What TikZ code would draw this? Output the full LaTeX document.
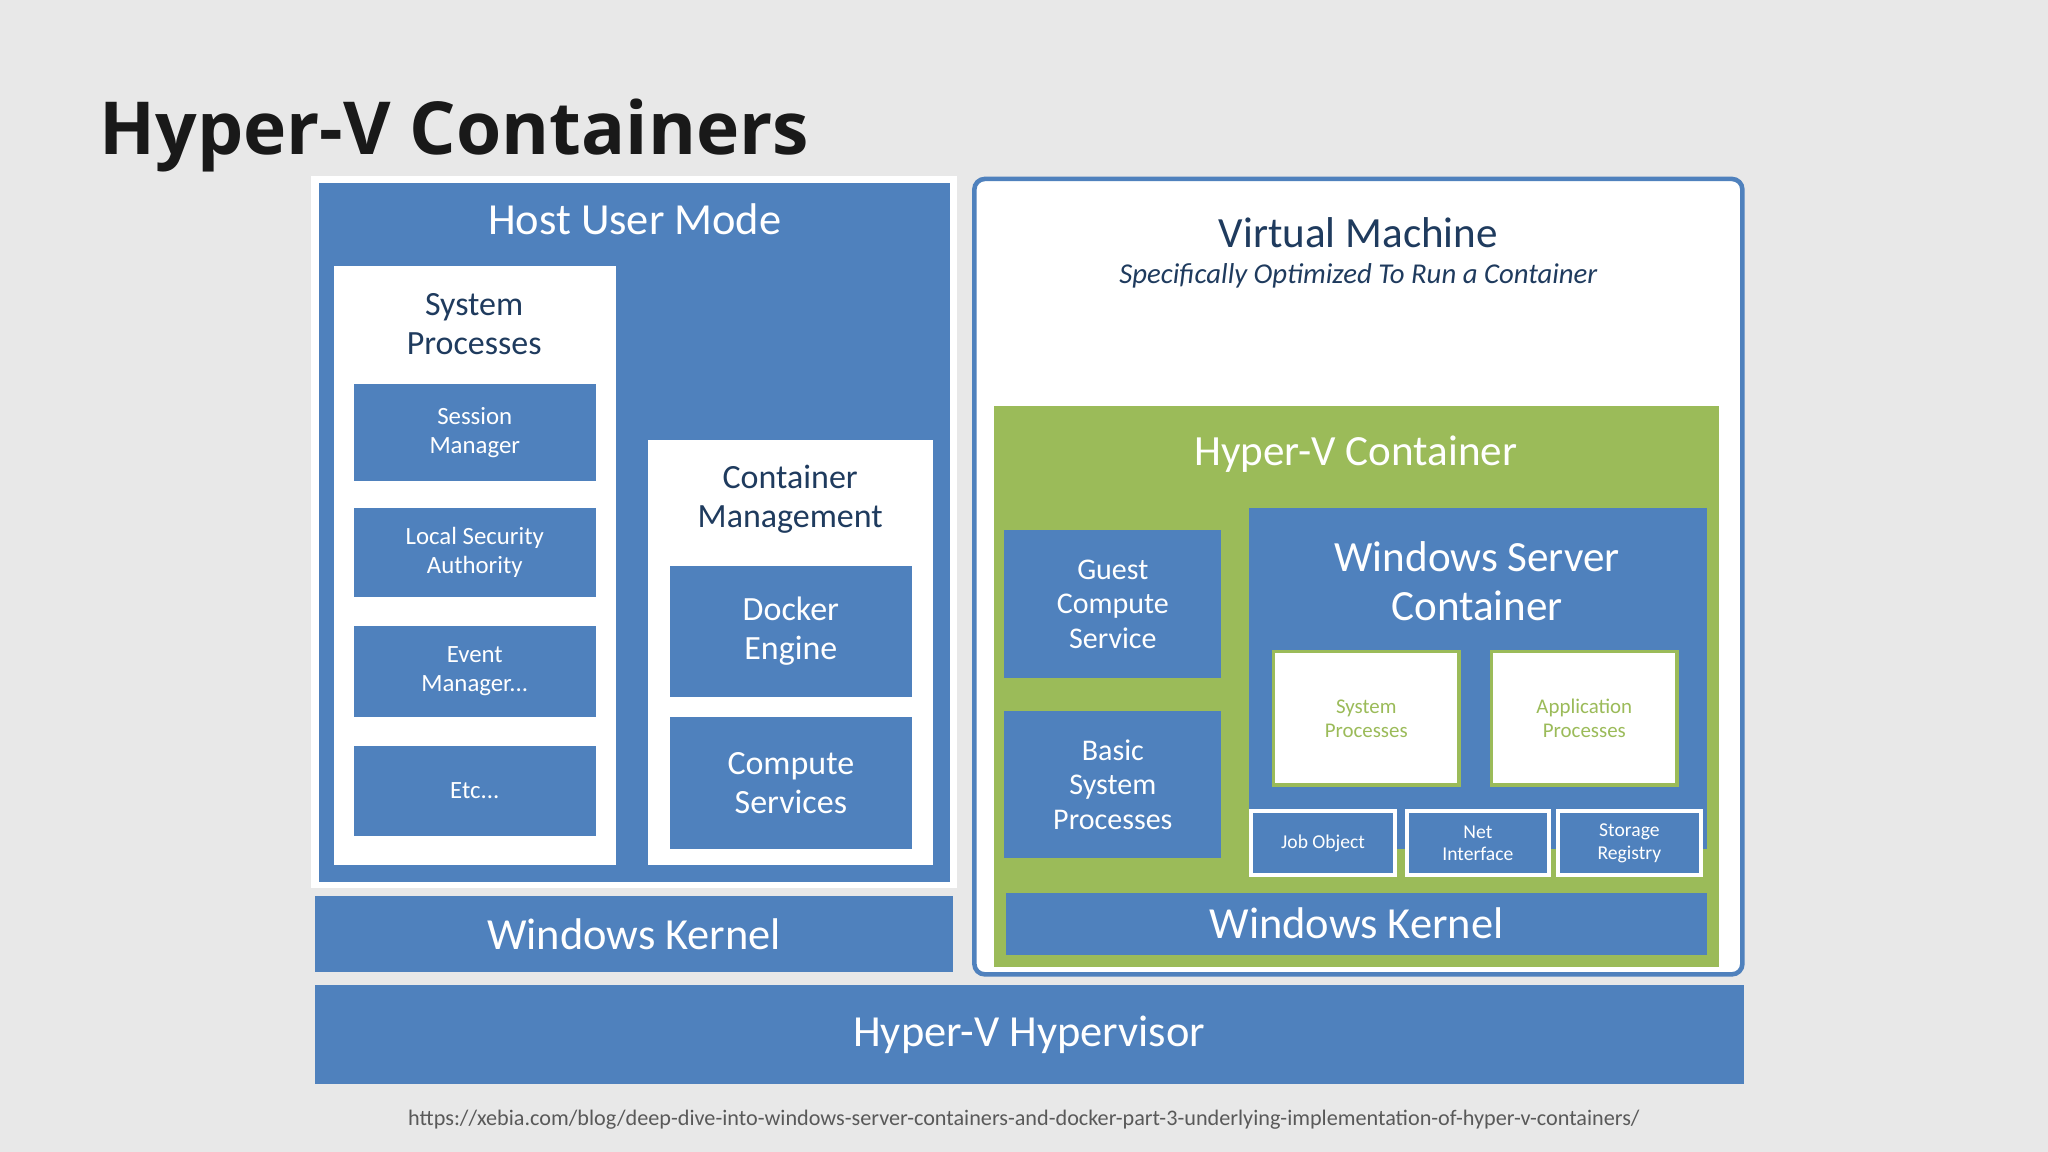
\documentclass[tikz,border=0pt]{standalone}
\usepackage{fontspec}
\setmainfont{Carlito}
\newfontfamily\titlefont{Open Sans}
\definecolor{bg}{HTML}{E8E8E8}
\definecolor{bl}{HTML}{4F81BD}
\definecolor{gr}{HTML}{9BBB59}
\definecolor{dk}{HTML}{1F3B5E}
\begin{document}
\begin{tikzpicture}[x=1pt,y=-1pt,
  t/.style={/utils/exec={\pgfmathsetmacro\bsk{#1*1.15}},font=\fontsize{#1}{\bsk}\selectfont,align=center,inner sep=0pt}]
\fill[bg] (0,0) rectangle (1568,882);
\useasboundingbox (0,0) rectangle (1568,882);
\node[anchor=base west,font=\titlefont\fontsize{56}{60}\selectfont\bfseries,text=black!90,inner sep=0] (title) at (76,118) {Hyper-V Containers};
% left host
\fill[white] (238,135) rectangle (733,680);
\fill[bl] (244,140) rectangle (727,675);
\node[t=34,text=white] (hum) at (486,168) {Host User Mode};
\fill[white] (256,204) rectangle (472,662);
\node[t=26,text=dk] (sp) at (363,248) {System\\Processes};
\foreach \a/\b/\txt/\n in {294/368/{Session\\Manager}/sm,389/457/{Local Security\\Authority}/lsa,479/549/{Event\\Manager...}/em,571/640/{Etc...}/etc}{
  \fill[bl] (271,\a) rectangle (456,\b);
  \node[t=19,text=white] (\n) at (363.5,{(\a+\b)/2}) {\txt};
}
\fill[white] (496,337) rectangle (714,662);
\node[t=26,text=dk] (cm) at (605,382) {Container\\Management};
\fill[bl] (513,433) rectangle (698,534);
\node[t=26,text=white] (de) at (605.5,483.5) {Docker\\Engine};
\fill[bl] (513,549) rectangle (698,650);
\node[t=26,text=white] (cs) at (605.5,599.5) {Compute\\Services};
\fill[bl] (241,686) rectangle (730,744);
\node[t=34,text=white] (wk1) at (485.5,715) {Windows Kernel};
% hypervisor
\fill[bl] (241,754) rectangle (1335,830);
\node[t=34,text=white] (hv) at (788,792) {Hyper-V Hypervisor};
\node[t=17,text=black!65] (url) at (784,857) {https://xebia.com/blog/deep-dive-into-windows-server-containers-and-docker-part-3-underlying-implementation-of-hyper-v-containers/};
% VM
\draw[bl,line width=3.5pt,fill=white,rounded corners=8pt] (746,137) rectangle (1334,746);
\node[t=33,text=dk] (vm) at (1040,178) {Virtual Machine};
\node[t=22,text=dk] (vms) at (1040,211) {\itshape Specifically Optimized To Run a Container};
\fill[gr] (761,311) rectangle (1316,740);
\node[t=33,text=white] (hvc) at (1038,348) {Hyper-V Container};
\fill[bl] (769,406) rectangle (935,519);
\node[t=23,text=white] (gcs) at (852,462.5) {Guest\\Compute\\Service};
\fill[bl] (769,544) rectangle (935,657);
\node[t=23,text=white] (bsp) at (852,600.5) {Basic\\System\\Processes};
\fill[bl] (956,389) rectangle (1307,650);
\node[t=33,text=white] (wsc) at (1131,445) {Windows Server\\Container};
\draw[gr,line width=2.5pt,fill=white] (975,499) rectangle (1117,601);
\node[t=16,text=gr] (sp2) at (1046,550) {System\\Processes};
\draw[gr,line width=2.5pt,fill=white] (1142,499) rectangle (1284,601);
\node[t=16,text=gr] (ap) at (1213,550) {Application\\Processes};
\foreach \a/\b/\txt/\n in {958/1068/{Job Object}/jo,1077/1186/{Net\\Interface}/ni,1193/1302/{Storage\\Registry}/sr}{
  \draw[white,line width=3pt,fill=bl] (\a,621) rectangle (\b,670);
  \node[t=15,text=white] (\n) at ({(\a+\b)/2},645.5) {\txt};
}
\fill[bl] (770,684) rectangle (1307,731);
\node[t=34,text=white] (wk2) at (1038.5,707) {Windows Kernel};
\end{tikzpicture}
\end{document}
